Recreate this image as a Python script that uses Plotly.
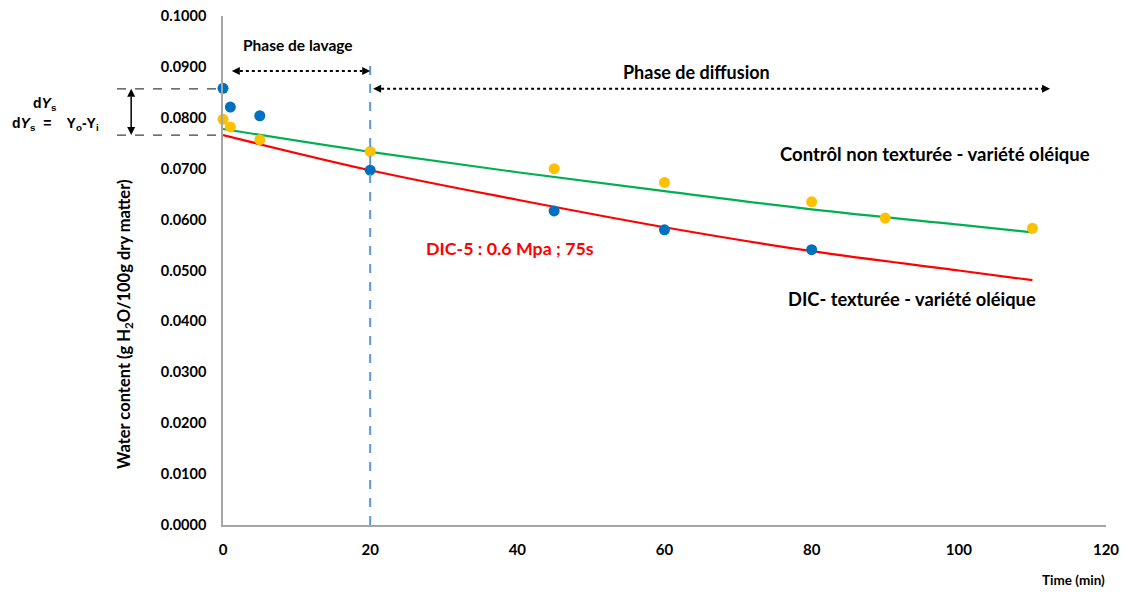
import plotly.graph_objects as go

# --- data ---
t_dic = [0, 1, 5, 20, 45, 60, 80]
y_dic = [0.0858, 0.0821, 0.0804, 0.0697, 0.0617, 0.0580, 0.0541]

t_ctrl = [0, 1, 5, 20, 45, 60, 80, 90, 110]
y_ctrl = [0.0797, 0.0782, 0.0757, 0.0734, 0.0700, 0.0673, 0.0635, 0.0603, 0.0583]

# trend lines
t_fit = [0, 20, 40, 60, 80, 100, 110]
fit_ctrl = [0.0778, 0.0733, 0.0693, 0.0656, 0.0620, 0.0590, 0.0575]
fit_dic = [0.0766, 0.0697, 0.0639, 0.0585, 0.0538, 0.0500, 0.0481]

x_ticks = [0, 20, 40, 60, 80, 100, 120]
y_ticks = [0.0, 0.01, 0.02, 0.03, 0.04, 0.05, 0.06, 0.07, 0.08, 0.09, 0.10]

FONT = "Lato"
fig = go.Figure()

fig.add_trace(go.Scatter(x=t_fit, y=fit_ctrl, mode="lines", line=dict(color="#00B050", width=2.2, shape="spline"),
                         showlegend=False, hoverinfo="skip"))
fig.add_trace(go.Scatter(x=t_fit, y=fit_dic, mode="lines", line=dict(color="#FF0000", width=2.2, shape="spline"),
                         showlegend=False, hoverinfo="skip"))
fig.add_trace(go.Scatter(x=t_dic, y=y_dic, mode="markers", marker=dict(color="#0070C0", size=11),
                         showlegend=False, cliponaxis=False))
fig.add_trace(go.Scatter(x=t_ctrl, y=y_ctrl, mode="markers", marker=dict(color="#FFC000", size=11),
                         showlegend=False, cliponaxis=False))

# pixel -> unit helpers for the arrowheads (plot area 883 x 509 px)
PX_X = 120 / 883.0
PX_Y = 0.1 / 509.0
PX_P = 1 / 883.0

shapes = []
# vertical dashed line at t=20
shapes.append(dict(type="line", xref="x", yref="y", x0=20, x1=20, y0=0, y1=0.0917,
                   line=dict(color="#5B9BD5", width=2, dash="dash"), layer="above"))


def harrow(x0, x1, y):
    L, H = 8 * PX_X, 4 * PX_Y
    shapes.append(dict(type="line", xref="x", yref="y", x0=x0 + L, x1=x1 - L, y0=y, y1=y,
                       line=dict(color="black", width=2, dash="dot")))
    shapes.append(dict(type="path", xref="x", yref="y", fillcolor="black", line=dict(width=0),
                       path=f"M {x0},{y} L {x0 + L},{y + H} L {x0 + L},{y - H} Z"))
    shapes.append(dict(type="path", xref="x", yref="y", fillcolor="black", line=dict(width=0),
                       path=f"M {x1},{y} L {x1 - L},{y + H} L {x1 - L},{y - H} Z"))


harrow(1.2, 20.0, 0.0892)
harrow(20.4, 112.4, 0.0857)

# dY dashed guide lines
Y_TOP, Y_BOT = 0.0857, 0.0766
for yv in [Y_TOP, Y_BOT]:
    shapes.append(dict(type="line", xref="paper", yref="y", x0=-0.12, x1=0, y0=yv, y1=yv,
                       line=dict(color="#404040", width=1.3, dash="dash")))
# dY solid double arrow
AX = -0.104
L, H = 8 * PX_Y, 4 * PX_P
shapes.append(dict(type="line", xref="paper", yref="y", x0=AX, x1=AX, y0=Y_BOT + L, y1=Y_TOP - L,
                   line=dict(color="black", width=1.5)))
shapes.append(dict(type="path", xref="paper", yref="y", fillcolor="black", line=dict(width=0),
                   path=f"M {AX},{Y_TOP} L {AX - H},{Y_TOP - L} L {AX + H},{Y_TOP - L} Z"))
shapes.append(dict(type="path", xref="paper", yref="y", fillcolor="black", line=dict(width=0),
                   path=f"M {AX},{Y_BOT} L {AX - H},{Y_BOT + L} L {AX + H},{Y_BOT + L} Z"))

ann = []


def txt(x, y, s, size, color="black", xref="x", yref="y", family=FONT, **kw):
    d = dict(x=x, y=y, xref=xref, yref=yref, text=s, showarrow=False, xanchor="center", yanchor="middle",
             font=dict(family=family, size=size, color=color, weight="bold"))
    d.update(kw)
    ann.append(d)


txt(10.2, 0.0943, "<b>Phase de lavage</b>", 15.5)
txt(64.4, 0.0890, "<b>Phase de diffusion</b>", 18)
txt(96.8, 0.0728, "<b>Contrôl non texturée - variété oléique</b>", 18.5)
txt(93.6, 0.0445, "<b>DIC- texturée - variété oléique</b>", 18.3)
txt(39.0, 0.0545, "<b>DIC-5 : 0.6 Mpa ; 75s</b>", 17.8, color="#FF0000")
txt(-0.2016, 0.0827, "<b>d<i>Y</i><sub>s</sub></b>", 14, xref="paper", family="Liberation Sans")
txt(-0.190, 0.0788, "<b>d<i>Y</i><sub>s</sub>  =    Y<sub>o</sub>-Y<sub>i</sub></b>", 14,
    xref="paper", family="Liberation Sans")
txt(-0.111, 0.395, "<b>Water content (g H<sub>2</sub>O/100g dry matter)</b>", 16.5,
    xref="paper", yref="paper", textangle=-90)
txt(1.001, -0.108, "<b>Time (min)</b>", 13.5, xref="paper", yref="paper", xanchor="right")

fig.update_layout(
    width=1130, height=595,
    margin=dict(l=223, r=24, t=16, b=70, autoexpand=False),
    plot_bgcolor="white", paper_bgcolor="white",
    shapes=shapes, annotations=ann,
    xaxis=dict(range=[0, 120], tickvals=x_ticks, showgrid=False, zeroline=False,
               showline=True, linecolor="#A6A6A6", linewidth=1.5, ticks="",
               tickfont=dict(family=FONT, size=15, color="black", weight="bold"), ticklabelstandoff=10),
    yaxis=dict(range=[0, 0.1], tickvals=y_ticks, tickformat=".4f", showgrid=False, zeroline=False,
               showline=True, linecolor="#A6A6A6", linewidth=1.5, ticks="",
               tickfont=dict(family=FONT, size=14.5, color="black", weight="bold"), ticklabelstandoff=12),
)

fig.write_html("out.html", config={"displayModeBar": False},
               post_script="document.body.style.margin='0';")
